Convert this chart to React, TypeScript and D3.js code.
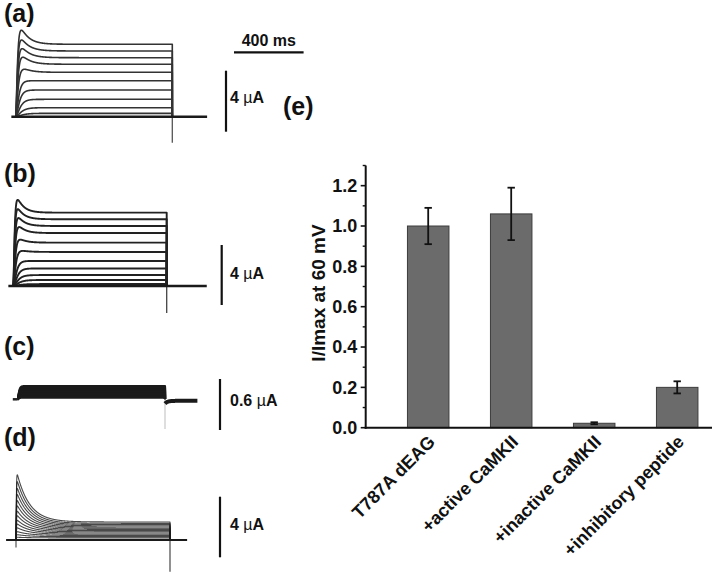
import React from 'react';
import * as d3 from 'd3';

const W = 717;
const H = 578;
const FONT = "'Liberation Sans', Arial, Helvetica, sans-serif";

// ---------- (e) bar chart data ----------
const conditions = ['T787A dEAG', '+active CaMKII', '+inactive CaMKII', '+inhibitory peptide'];
const relCurrent = [1.0, 1.06, 0.022, 0.2];
const relError = [0.09, 0.13, 0.005, 0.03];
const yTicksE = [0, 0.2, 0.4, 0.6, 0.8, 1.0, 1.2];
const yMinorE = [0.1, 0.3, 0.5, 0.7, 0.9, 1.1, 1.3];

// ---------- current traces (µA) ----------
const pulseMs = 900;
// (a)
const steadyA = [4.75, 4.31, 3.87, 3.44, 2.91, 2.36, 1.75, 1.14, 0.59, 0.22];
const overshootA = [0.92, 0.72, 0.59, 0.46, 0.2, 0, 0, 0, 0, 0];
const riseA = [8, 8, 9, 10, 11, 13, 16, 20, 25, 30];
const decayA = 45;
const tailA = -1.7;
// (b)
const steadyB = [4.89, 4.45, 4.0, 3.53, 2.89, 2.27, 1.67, 1.17, 0.73, 0.4, 0.13];
const overshootB = [0.85, 0.67, 0.53, 0.4, 0.2, 0.07, 0, 0, 0, 0, 0];
const riseB = [6, 6, 7, 8, 9, 11, 14, 18, 22, 26, 30];
const decayB = 38;
const tailB = -1.8;
// (c)
const steadyC = [0.155, 0.14, 0.125, 0.11, 0.095, 0.08, 0.065, 0.05, 0.035, 0.02];
const riseC = [6, 6, 6, 6, 6, 6, 6, 6, 6, 6];
const postLevelC = -0.018;
const postDipC = -0.05;
const tailC = -0.35;
// (d)
const steadyD = [1.19, 1.1, 1.02, 0.94, 0.86, 0.78, 0.7, 0.62, 0.54, 0.46, 0.38, 0.3, 0.22, 0.14];
const peakD = [4.3, 3.85, 3.4, 3.0, 2.6, 2.25, 1.9, 1.6, 1.3, 1.05, 0.8, 0.55, 0.35, 0.18];
const decayD = 73;
const tailD = -2.09;

type Pt = [number, number];

function buildTrace(s: number, o: number, tr: number, td: number): Pt[] {
  const act = (t: number) => Math.pow(1 - Math.exp(-t / tr), 2);
  const ts = d3.range(0, pulseMs + 0.5, 1);
  const f = (A: number) => ts.map((t) => act(t) * (s + A * Math.exp(-t / td)));
  let A = 0;
  if (o > 0) {
    let lo = 0;
    let hi = o * 20 + 2;
    for (let k = 0; k < 30; k++) {
      const mid = (lo + hi) / 2;
      const pk = d3.max(f(mid)) as number;
      if (pk > s + o) hi = mid;
      else lo = mid;
    }
    A = (lo + hi) / 2;
  }
  const vals = f(A);
  return ts.map((t, i) => [t, vals[i]] as Pt);
}

interface Panel {
  startX: number;
  endX: number;
  baseY: number;
  unit: number; // µA for the scale bar
  unitPx: number;
  preMs: number;
  postMs: number;
}

const layoutA: Panel = { startX: 15.7, endX: 172.3, baseY: 116.7, unit: 4, unitPx: 61, preMs: -25, postMs: 1100 };
const layoutB: Panel = { startX: 13.3, endX: 166.7, baseY: 286, unit: 4, unitPx: 60, preMs: -29, postMs: 1135 };
const layoutC: Panel = { startX: 17.7, endX: 165, baseY: 399.3, unit: 0.6, unitPx: 51, preMs: -30, postMs: 1098 };
const layoutD: Panel = { startX: 16, endX: 170, baseY: 540, unit: 4, unitPx: 60.6, preMs: -58, postMs: 1000 };

function scales(p: Panel) {
  const x = d3.scaleLinear().domain([0, pulseMs]).range([p.startX, p.endX]);
  const y = d3.scaleLinear().domain([0, p.unit]).range([p.baseY, p.baseY - p.unitPx]);
  return { x, y };
}

function TracePanel(props: {
  p: Panel;
  traces: Pt[][];
  stroke: string;
  width: number;
  opacity?: number;
  tail: number;
  tailColor: string;
  baseWidth: number;
  post?: Pt[];
  startStub?: number;
}) {
  const { p, traces, stroke, width, opacity = 1, tail, tailColor, baseWidth, post, startStub } = props;
  const { x, y } = scales(p);
  const line = d3
    .line<Pt>()
    .x((d) => x(d[0]))
    .y((d) => y(d[1]));
  return (
    <g>
      {traces.map((tr, i) => (
        <path
          key={i}
          d={line([[0, 0] as Pt, ...tr, [pulseMs, 0] as Pt]) || ''}
          fill="none"
          stroke={stroke}
          strokeWidth={width}
          strokeOpacity={opacity}
          strokeLinejoin="round"
        />
      ))}
      <line x1={x(pulseMs)} x2={x(pulseMs)} y1={y(0)} y2={y(tail)} stroke={tailColor} strokeWidth={1.3} />
      {startStub !== undefined && (
        <line x1={x(0)} x2={x(0)} y1={y(0)} y2={y(startStub)} stroke="#555" strokeWidth={1.2} />
      )}
      {post ? (
        <>
          <line x1={x(p.preMs)} x2={x(0)} y1={y(0)} y2={y(0)} stroke="#222" strokeWidth={baseWidth} />
          <path d={line(post) || ''} fill="none" stroke="#1a1a1a" strokeWidth={4} />
        </>
      ) : (
        <line x1={x(p.preMs)} x2={x(p.postMs)} y1={y(0)} y2={y(0)} stroke="#1a1a1a" strokeWidth={baseWidth} />
      )}
    </g>
  );
}

function VScaleBar(props: { x: number; bottom: number; len: number; label: string; labelY: number }) {
  const { x, bottom, len, label, labelY } = props;
  const parts = label.split('µ');
  return (
    <g>
      <line x1={x} x2={x} y1={bottom - len} y2={bottom} stroke="#111" strokeWidth={2.2} />
      <text x={230} y={labelY} fontFamily={FONT} fontWeight="bold" fontSize={16} fill="#111">
        {parts[0]}
        <tspan fontWeight="normal">µ</tspan>
        {parts[1]}
      </text>
    </g>
  );
}

export default function App() {
  const tracesA = steadyA.map((s, i) => buildTrace(s, overshootA[i], riseA[i], decayA));
  const tracesB = steadyB.map((s, i) => buildTrace(s, overshootB[i], riseB[i], decayB));
  const tracesC = steadyC.map((s, i) => buildTrace(s, 0, riseC[i], 50));
  const tracesD = steadyD.map((s, i) => buildTrace(s, peakD[i] - s, 1.5, decayD));
  const postC: Pt[] = d3
    .range(pulseMs, layoutC.postMs + 0.5, 2)
    .map((t) => [t, postLevelC + (postDipC - postLevelC) * Math.exp(-(t - pulseMs) / 15)] as Pt);

  const sA = scales(layoutA);
  const sB = scales(layoutB);
  const sC = scales(layoutC);
  const sD = scales(layoutD);
  const msBar = sA.x(400) - sA.x(0);

  // bar chart scales
  const xE = d3.scaleBand<string>().domain(conditions).range([386.7, 718.7]).paddingInner(0.5).paddingOuter(0.25);
  const yE = d3.scaleLinear().domain([0, 1.3]).range([427.7, 165.5]);
  const axisX = 365.7;

  return (
    <svg width={W} height={H} style={{ position: 'absolute', left: 0, top: 0, background: '#fff' }}>
      <rect x={0} y={0} width={W} height={H} fill="#fff" />
      {/* panel labels */}
      {[
        ['(a)', 4, 22],
        ['(b)', 4, 181.5],
        ['(c)', 4, 355],
        ['(d)', 4, 446],
        ['(e)', 283, 115],
      ].map(([t, x, y]) => (
        <text key={t as string} x={x as number} y={y as number} fontFamily={FONT} fontWeight="bold" fontSize={25} fill="#111">
          {t}
        </text>
      ))}

      <TracePanel p={layoutA} traces={tracesA} stroke="#333" width={1.6} tail={tailA} tailColor="#555" baseWidth={2.5} />
      <TracePanel p={layoutB} traces={tracesB} stroke="#222" width={1.9} tail={tailB} tailColor="#444" baseWidth={2.5} />
      <TracePanel p={layoutC} traces={tracesC} stroke="#1a1a1a" width={2.2} tail={tailC} tailColor="#ccc" baseWidth={2.5} post={postC} />
      <TracePanel p={layoutD} traces={tracesD} stroke="#1c1c1c" width={1.1} opacity={0.8} tail={tailD} tailColor="#555" baseWidth={2.2} startStub={-0.5} />

      {/* time scale bar */}
      <line x1={234} x2={234 + msBar} y1={52.3} y2={52.3} stroke="#111" strokeWidth={2.2} />
      <text x={234 + msBar / 2} y={46} textAnchor="middle" fontFamily={FONT} fontWeight="bold" fontSize={16} fill="#111">
        400 ms
      </text>

      <VScaleBar x={226} bottom={131.7} len={sA.y(0) - sA.y(4)} label="4 µA" labelY={103.3} />
      <VScaleBar x={221.7} bottom={305} len={sB.y(0) - sB.y(4)} label="4 µA" labelY={278.5} />
      <VScaleBar x={220} bottom={430} len={sC.y(0) - sC.y(0.6)} label="0.6 µA" labelY={406} />
      <VScaleBar x={220} bottom={557.3} len={sD.y(0) - sD.y(4)} label="4 µA" labelY={530} />

      {/* (e) bar chart */}
      <g>
        {conditions.map((c, i) => (
          <rect
            key={c}
            x={xE(c)}
            y={yE(relCurrent[i])}
            width={xE.bandwidth()}
            height={yE(0) - yE(relCurrent[i])}
            fill="#6b6b6b"
            stroke="#3c3c3c"
            strokeWidth={1}
          />
        ))}
        {conditions.map((c, i) => {
          const cx = (xE(c) as number) + xE.bandwidth() / 2;
          const top = yE(relCurrent[i] + relError[i]);
          const bot = yE(relCurrent[i] - relError[i]);
          return (
            <g key={c} stroke="#111" strokeWidth={1.8}>
              <line x1={cx} x2={cx} y1={top} y2={bot} />
              <line x1={cx - 3.7} x2={cx + 3.7} y1={top} y2={top} />
              <line x1={cx - 3.7} x2={cx + 3.7} y1={bot} y2={bot} />
            </g>
          );
        })}
        {/* axes */}
        <line x1={axisX} x2={axisX} y1={yE(1.3)} y2={yE(0) + 1} stroke="#111" strokeWidth={2} />
        <line x1={axisX - 1} x2={712} y1={yE(0)} y2={yE(0)} stroke="#111" strokeWidth={2} />
        {yTicksE.map((t) => (
          <g key={t}>
            <line x1={axisX - 5} x2={axisX} y1={yE(t)} y2={yE(t)} stroke="#111" strokeWidth={1.6} />
            <text x={357.3} y={yE(t) + 6.4} textAnchor="end" fontFamily={FONT} fontWeight="bold" fontSize={18} fill="#111">
              {d3.format('.1f')(t)}
            </text>
          </g>
        ))}
        {yMinorE.map((t) => (
          <line key={t} x1={axisX - 3} x2={axisX} y1={yE(t)} y2={yE(t)} stroke="#111" strokeWidth={1.4} />
        ))}
        <text
          transform="translate(325,293) rotate(-90)"
          textAnchor="middle"
          fontFamily={FONT}
          fontWeight="bold"
          fontSize={19}
          fill="#111"
        >
          I/Imax at 60 mV
        </text>
        {conditions.map((c) => {
          const cx = (xE(c) as number) + xE.bandwidth() / 2;
          return (
            <text
              key={c}
              transform={`translate(${cx + 8},443) rotate(-45)`}
              textAnchor="end"
              fontFamily={FONT}
              fontWeight="bold"
              fontSize={18}
              fill="#111"
            >
              {c}
            </text>
          );
        })}
      </g>
    </svg>
  );
}
